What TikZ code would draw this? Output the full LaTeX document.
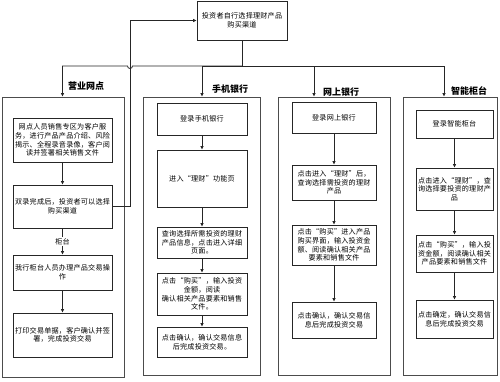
\documentclass[tikz,border=0pt]{standalone}
\usepackage{fontspec}
\newfontfamily\cjk[LetterSpace=3]{Noto Sans CJK SC}
\newfontfamily\cjkb{Noto Sans CJK SC}
\usetikzlibrary{arrows.meta}
\tikzset{
 box/.style={draw=black!85, line width=0.8pt, align=center, inner sep=0pt, font=\cjk\fontsize{7.1}{8.7}\selectfont},
 outerbox/.style={draw=black!70, line width=0.8pt, inner sep=0pt},
 lab/.style={font=\cjkb\bfseries\fontsize{9}{10}\selectfont, inner sep=0pt},
 arr/.style={-{Latex[length=3.5pt,width=3.5pt]}, draw=black!85, line width=0.8pt},
 ln/.style={draw=black!85, line width=0.8pt}
}
\begin{document}
\begin{tikzpicture}[x=1pt,y=-1pt]
\useasboundingbox (0,0) rectangle (500,381);
% top
\node[box, minimum width=90pt, minimum height=39pt] (top) at (242,20.5) {投资者自行选择理财产品\\购买渠道};
% outer boxes
\node[outerbox, minimum width=122pt, minimum height=280pt] (lo) at (63,237) {};
\node[outerbox, minimum width=117pt, minimum height=278pt] (mo) at (201.5,236) {};
\node[outerbox, minimum width=112pt, minimum height=278pt] (oo) at (334,236) {};
\node[outerbox, minimum width=94pt, minimum height=278pt] (so) at (450,236) {};
% labels
\node[lab] (ll) at (86,86) {营业网点};
\node[lab] (ml) at (230,89) {手机银行};
\node[lab] (ol) at (341,92) {网上银行};
\node[lab] (sl) at (469,91) {智能柜台};
% left column
\node[box, minimum width=99pt, minimum height=44pt] (L1) at (62.5,140) {网点人员销售专区为客户服\\务，进行产品产品介绍、风险\\揭示、全程录音录像，客户阅\\读并签署相关销售文件};
\node[box, minimum width=99pt, minimum height=43pt] (L2) at (62.5,206.5) {双录完成后，投资者可以选择\\购买渠道};
\node[box, minimum width=99pt, minimum height=35pt] (L3) at (62.5,272.5) {我行柜台人员办理产品交易操\\作};
\node[box, minimum width=99pt, minimum height=44pt] (L4) at (62.5,335) {打印交易单据，客户确认并签\\署，完成投资交易};
% mobile
\node[box, minimum width=90pt, minimum height=32pt] (M1) at (202,119) {登录手机银行};
\node[box, minimum width=90pt, minimum height=57pt] (M2) at (202,178.5) {进入“理财”功能页};
\node[box, minimum width=90pt, minimum height=31pt] (M3) at (202,242.5) {查询选择所需投资的理财\\产品信息，点击进入详细\\页面。};
\node[box, minimum width=90pt, minimum height=42pt] (M4) at (202,294) {点击“购买”，输入投资\\金额，阅读\\确认相关产品要素和销售\\文件。};
\node[box, minimum width=90pt, minimum height=30pt] (M5) at (202,342) {点击确认，确认交易信息\\后完成投资交易。};
% online
\node[box, minimum width=84pt, minimum height=31pt] (O1) at (334,117.5) {登录网上银行};
\node[box, minimum width=84pt, minimum height=35pt] (O2) at (334,182.5) {点击进入“理财”后，\\查询选择需投资的理财\\产品};
\node[box, minimum width=84pt, minimum height=40pt] (O3) at (334,245) {点击“购买”进入产品\\购买界面，输入投资金\\额、阅读确认相关产品\\要素和销售文件};
\node[box, minimum width=84pt, minimum height=36pt] (O4) at (334,320) {点击确认，确认交易信\\息后完成投资交易};
% smart
\node[box, minimum width=77pt, minimum height=28pt] (S1) at (454.5,124) {登录智能柜台};
\node[box, minimum width=77pt, minimum height=42pt] (S2) at (454.5,189) {点击进入“理财”，查\\询选择要投资的理财产\\品};
\node[box, minimum width=77pt, minimum height=37pt] (S3) at (454.5,253.5) {点击“购买”，输入投\\资金额，阅读确认相关\\产品要素和销售文件};
\node[box, minimum width=77pt, minimum height=38pt] (S4) at (454.5,319) {点击确定，确认交易信\\息后完成投资交易};
% distribution lines
\coordinate (J) at (242,66);
\coordinate (dl) at (62.5,66);
\coordinate (dm) at (202,66);
\coordinate (dn) at (314,66);
\coordinate (ds) at (444,66);
\coordinate (hr) at (132.5,66);
\draw[ln] (top.south) -- (J);
\draw[arr] (J) -- (hr) arc[start angle=0,end angle=180,radius=2.5] -- (dl) -- (dl |- lo.north);
\draw[arr] (J) -- (dm) -- (dm |- mo.north);
\draw[arr] (J) -- (dn) -- (dn |- oo.north);
\draw[arr] (J) -- (ds) -- (ds |- so.north);
% feedback
\coordinate (fb) at (130,20.5);
\draw[arr] (L2.east) -| (fb) -- (top.west);
% left arrows
\draw[arr] (L1) -- (L2);
\draw[arr] (L2) -- node[fill=white, inner sep=1pt, font=\cjk\fontsize{7.1}{8}\selectfont] (gt) {柜台} (L3);
\draw[arr] (L3) -- (L4);
% mobile arrows
\draw[arr] (M1) -- (M2);
\draw[arr] (M2) -- (M3);
\draw[arr] (M3) -- (M4);
\draw[arr] (M4) -- (M5);
% online arrows
\draw[arr] (O1) -- (O2);
\draw[arr] (O2) -- (O3);
\draw[arr] (O3) -- (O4);
% smart arrows
\draw[arr] (S1) -- (S2);
\draw[arr] (S2) -- (S3);
\draw[arr] (S3) -- (S4);
\end{tikzpicture}
\end{document}
